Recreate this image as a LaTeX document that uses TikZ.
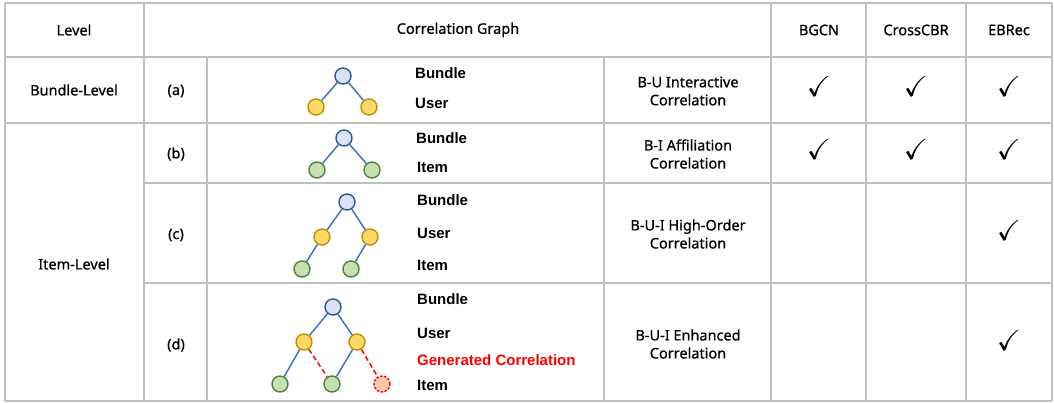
\documentclass[tikz,border=0pt]{standalone}
\usepackage{fontspec}
\usepackage{amssymb}
\setmainfont{Noto Sans}
\newfontfamily\tabfont{Noto Sans}[BoldFont=Noto Sans, BoldFeatures={FakeBold=0.8}]
\newfontfamily\labfont{Liberation Sans}
\definecolor{gridc}{RGB}{191,191,191}
\definecolor{bfill}{RGB}{218,227,243}
\definecolor{bstroke}{RGB}{47,85,151}
\definecolor{ufill}{RGB}{255,217,102}
\definecolor{ustroke}{RGB}{191,144,0}
\definecolor{ifill}{RGB}{197,224,180}
\definecolor{istroke}{RGB}{84,130,53}
\definecolor{gfill}{RGB}{248,203,173}
\definecolor{edgeblue}{RGB}{68,114,196}
\definecolor{genred}{RGB}{255,0,0}
\begin{document}
\begin{tikzpicture}[x=1pt,y=-1pt,
  gridline/.style={draw=gridc,line width=2.6pt},
  txt/.style={font=\tabfont\bfseries\fontsize{14.5}{18}\selectfont, align=center, inner sep=0},
  lbl/.style={font=\labfont\bfseries\fontsize{15}{16}\selectfont, anchor=west, inner sep=0},
  chk/.style={font=\fontsize{29}{29}\selectfont, inner sep=0},
  nd/.style={circle, minimum size=16pt, inner sep=0, line width=1.4pt},
  bnode/.style={nd, draw=bstroke, fill=bfill},
  unode/.style={nd, draw=ustroke, fill=ufill},
  inode/.style={nd, draw=istroke, fill=ifill},
  gnode/.style={nd, draw=genred, fill=gfill, dashed, dash pattern=on 2.5pt off 1.5pt},
  edgeb/.style={draw=edgeblue, line width=1.5pt},
  edger/.style={draw=genred, line width=1.5pt, dash pattern=on 5pt off 3pt}
]
\useasboundingbox (0,0) rectangle (1054,403);
% grid
\draw[gridline] (5,3) -- (1052,3);
\draw[gridline] (5,57) -- (1052,57);
\draw[gridline] (5,123) -- (1052,123);
\draw[gridline] (144,183) -- (1052,183);
\draw[gridline] (144,283) -- (1052,283);
\draw[gridline] (5,401) -- (1052,401);
\draw[gridline] (5,3) -- (5,401);
\draw[gridline] (144,3) -- (144,401);
\draw[gridline] (207,57) -- (207,401);
\draw[gridline] (604,57) -- (604,401);
\draw[gridline] (771,3) -- (771,401);
\draw[gridline] (866,3) -- (866,401);
\draw[gridline] (966,3) -- (966,401);
\draw[gridline] (1052,3) -- (1052,401);
% header
\node[txt] (hlevel) at (74,30) {Level};
\node[txt] (hgraph) at (458,30) {Correlation Graph};
\node[txt] (hbgcn) at (819,30) {BGCN};
\node[txt] (hcross) at (916,30) {CrossCBR};
\node[txt] (hebrec) at (1009,30) {EBRec};
% level column
\node[txt] (bl) at (74,90) {Bundle-Level};
\node[txt] (il) at (74,264) {Item-Level};
\node[txt] (la) at (176,91) {(a)};
\node[txt] (lb) at (176,154) {(b)};
\node[txt] (lc) at (176,235) {(c)};
\node[txt] (ld) at (176,345) {(d)};
% descriptions
\node[txt] (da) at (688,91) {B-U Interactive\\Correlation};
\node[txt] (db) at (688,154) {B-I Affiliation\\Correlation};
\node[txt] (dc) at (688,234) {B-U-I High-Order\\Correlation};
\node[txt] (dd) at (688,344) {B-U-I Enhanced\\Correlation};
% checks
\node[chk] (ca1) at (819,86) {$\checkmark$};
\node[chk] (ca2) at (916,86) {$\checkmark$};
\node[chk] (ca3) at (1009,86) {$\checkmark$};
\node[chk] (cb1) at (819,149) {$\checkmark$};
\node[chk] (cb2) at (916,149) {$\checkmark$};
\node[chk] (cb3) at (1009,149) {$\checkmark$};
\node[chk] (cc3) at (1009,230) {$\checkmark$};
\node[chk] (cd3) at (1009,340) {$\checkmark$};
% tree a
\node[bnode] (ab) at (343,76) {};
\node[unode] (au1) at (316,107) {};
\node[unode] (au2) at (369,107) {};
\draw[edgeb] (ab) -- (au1);
\draw[edgeb] (ab) -- (au2);
\node[lbl] (alb) at (415,73) {Bundle};
\node[lbl] (alu) at (415,103) {User};
% tree b
\node[bnode] (bb) at (344,138) {};
\node[inode] (bi1) at (317,170) {};
\node[inode] (bi2) at (372,170) {};
\draw[edgeb] (bb) -- (bi1);
\draw[edgeb] (bb) -- (bi2);
\node[lbl] (blb) at (416,138) {Bundle};
\node[lbl] (bli) at (417,167) {Item};
% tree c
\node[bnode] (cb) at (347,202) {};
\node[unode] (cu1) at (322,237) {};
\node[unode] (cu2) at (370,237) {};
\node[inode] (ci1) at (302,269) {};
\node[inode] (ci2) at (351,269) {};
\draw[edgeb] (cb) -- (cu1);
\draw[edgeb] (cb) -- (cu2);
\draw[edgeb] (cu1) -- (ci1);
\draw[edgeb] (cu2) -- (ci2);
\node[lbl] (clb) at (417,200) {Bundle};
\node[lbl] (clu) at (417,233) {User};
\node[lbl] (cli) at (417,265) {Item};
% tree d
\node[bnode] (db0) at (333,307) {};
\node[unode] (du1) at (304,342) {};
\node[unode] (du2) at (357,342) {};
\node[inode] (di1) at (280,384) {};
\node[inode] (di2) at (332,384) {};
\node[gnode] (dg) at (382,384) {};
\draw[edgeb] (db0) -- (du1);
\draw[edgeb] (db0) -- (du2);
\draw[edgeb] (du1) -- (di1);
\draw[edgeb] (du2) -- (di2);
\draw[edger] (du1) -- (di2);
\draw[edger] (du2) -- (dg);
\node[lbl] (dlb) at (417,299) {Bundle};
\node[lbl] (dlu) at (417,333) {User};
\node[lbl, text=genred] (dlg) at (417,360) {Generated Correlation};
\node[lbl] (dli) at (417,385) {Item};
\end{tikzpicture}
\end{document}
